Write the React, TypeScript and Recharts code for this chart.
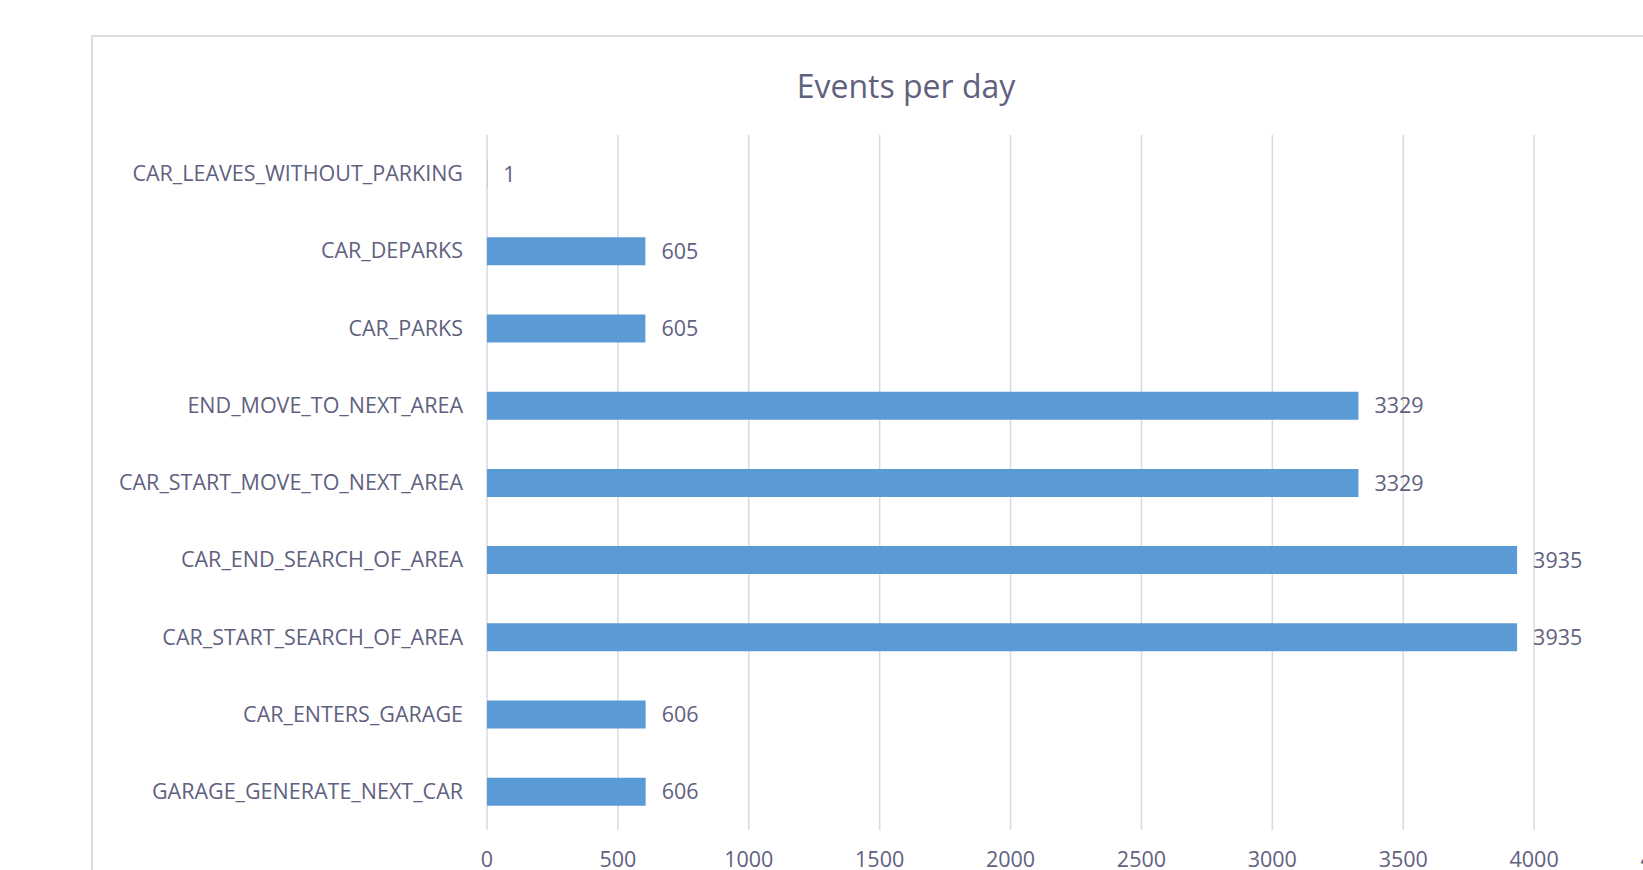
import { BarChart, Bar, XAxis, YAxis, CartesianGrid, LabelList } from 'recharts'

const categories = [
  'CAR_LEAVES_WITHOUT_PARKING',
  'CAR_DEPARKS',
  'CAR_PARKS',
  'END_MOVE_TO_NEXT_AREA',
  'CAR_START_MOVE_TO_NEXT_AREA',
  'CAR_END_SEARCH_OF_AREA',
  'CAR_START_SEARCH_OF_AREA',
  'CAR_ENTERS_GARAGE',
  'GARAGE_GENERATE_NEXT_CAR',
]

const eventCounts = [1, 605, 605, 3329, 3329, 3935, 3935, 606, 606]

const xTicks = [0, 500, 1000, 1500, 2000, 2500, 3000, 3500, 4000, 4500]

const TEXT = '#5f617f'
const FONT = '"Open Sans", sans-serif'

const data = categories.map((name, i) => ({ name, value: eventCounts[i] }))

export default function App() {
  return (
    <div
      style={{
        position: 'fixed',
        left: 0,
        top: 0,
        width: 1643,
        height: 870,
        overflow: 'hidden',
        background: '#fff',
        fontFamily: FONT,
      }}
    >
      {/* chart frame, cropped at the right and bottom like the reference */}
      <div
        style={{
          position: 'absolute',
          left: 91,
          top: 35,
          width: 1700,
          height: 900,
          border: '2px solid #dcdce3',
          boxSizing: 'border-box',
        }}
      />
      <div
        style={{
          position: 'absolute',
          left: 706,
          top: 70,
          width: 400,
          textAlign: 'center',
          fontSize: 32,
          lineHeight: '32px',
          color: TEXT,
        }}
      >
        Events per day
      </div>
      <div style={{ position: 'absolute', left: 0, top: 0 }}>
        <BarChart
          width={1700}
          height={900}
          data={data}
          layout="vertical"
          margin={{ top: 135, right: 35, bottom: 30, left: 0 }}
        >
          <CartesianGrid horizontal={false} stroke="#d9d9e1" strokeWidth={1.5} />
          <XAxis
            type="number"
            domain={[0, 4500]}
            ticks={xTicks}
            interval={0}
            axisLine={false}
            tickLine={false}
            tickSize={0}
            tickMargin={22}
            height={40}
            tick={{ fill: TEXT, fontSize: 21.5, fontFamily: FONT }}
          />
          <YAxis
            type="category"
            dataKey="name"
            width={487}
            axisLine={false}
            tickLine={false}
            tickSize={0}
            tickMargin={24}
            interval={0}
            tick={{ fill: TEXT, fontSize: 21.5, fontFamily: FONT }}
          />
          <Bar dataKey="value" fill="#5b9bd5" barSize={28} isAnimationActive={false}>
            <LabelList
              dataKey="value"
              position="right"
              offset={16}
              fill={TEXT}
              fontSize={21.5}
              fontFamily={FONT}
            />
          </Bar>
        </BarChart>
      </div>
    </div>
  )
}
